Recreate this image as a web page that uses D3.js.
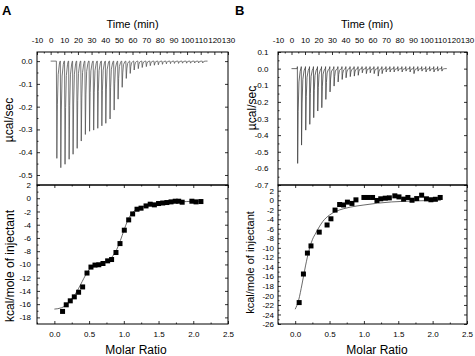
<!DOCTYPE html>
<html><head><meta charset="utf-8">
<script src="https://cdn.jsdelivr.net/npm/d3@7"></script>
<style>
body{margin:0;background:#fff;}
svg{display:block;font-family:"Liberation Sans",Arial,sans-serif;}
.domain{display:none;}
</style></head>
<body>
<script>
// ---------------- DATA ----------------
const timeTicks = [-10,0,10,20,30,40,50,60,70,80,90,100,110,120,130];
const rawTicksA = [0.0,-0.1,-0.2,-0.3,-0.4,-0.5];
const rawTicksB = [0.1,0.0,-0.1,-0.2,-0.3,-0.4,-0.5,-0.6,-0.7];
const heatTicksA = [2,0,-2,-4,-6,-8,-10,-12,-14,-16,-18];
const heatTicksB = [2,0,-2,-4,-6,-8,-10,-12,-14,-16,-18,-20,-22,-24,-26];
const ratioTicks = [0.0,0.5,1.0,1.5,2.0,2.5];

const injTimes = [4.2,7.1,10.2,13.2,16.1,19.1,22.1,25.1,28.2,31.2,34.2,37.2,40.1,43.2,46.2,49.1,52.1,55.1,58.0,60.9,
  63.9,66.8,69.8,72.7,75.7,78.6,81.6,84.5,87.5,90.4,93.4,96.3,99.3,102.2,105.2,108.1,111.1];
const peaksA = [-0.427,-0.468,-0.453,-0.431,-0.409,-0.383,-0.351,-0.322,-0.308,-0.303,-0.295,-0.284,-0.273,-0.254,-0.215,
  -0.167,-0.115,-0.076,-0.054,-0.039,-0.033,-0.028,-0.024,-0.020,-0.018,-0.016,-0.014,-0.012,-0.011,-0.010,
  -0.010,-0.009,-0.009,-0.009,-0.008,-0.008,-0.008];
const peaksB = [-0.57,-0.46,-0.37,-0.335,-0.295,-0.255,-0.235,-0.185,-0.14,-0.105,-0.08,-0.065,-0.055,-0.048,-0.045,
  -0.04,-0.025,-0.03,-0.025,-0.03,-0.045,-0.03,-0.02,-0.02,-0.02,-0.015,-0.02,-0.015,-0.02,-0.03,
  -0.015,-0.015,-0.02,-0.015,-0.02,-0.015,-0.015];
const traceEnd = 115;

const ratioA = [0.118,0.171,0.229,0.287,0.349,0.407,0.47,0.527,0.585,0.64,0.70,0.767,0.824,0.887,0.945,1.007,1.07,
  1.127,1.19,1.248,1.32,1.38,1.44,1.50,1.56,1.62,1.68,1.74,1.79,1.84,1.98,2.04,2.11];
const heatA = [-17.1,-16.1,-15.5,-14.9,-14.2,-13.4,-11.3,-10.4,-10.1,-10.05,-9.86,-9.46,-9.26,-8.2,-6.85,-4.83,-3.27,
  -2.37,-1.66,-1.5,-1.16,-0.9,-1.0,-0.8,-0.72,-0.65,-0.55,-0.45,-0.45,-0.6,-0.45,-0.55,-0.5];
const fitRatioA = [0.0,0.1,0.15,0.2,0.25,0.3,0.35,0.4,0.45,0.5,0.55,0.6,0.65,0.7,0.75,0.8,0.85,0.9,0.95,1.0,1.05,1.1,
  1.15,1.2,1.3,1.4,1.5,1.7,1.9,2.12];
const fitHeatA = [-16.75,-16.55,-16.3,-15.8,-15.2,-14.5,-13.6,-12.6,-11.6,-10.8,-10.3,-10.1,-9.95,-9.8,-9.55,-9.2,-8.6,
  -7.7,-6.4,-4.9,-3.5,-2.5,-1.9,-1.55,-1.2,-0.98,-0.82,-0.62,-0.5,-0.42];

const ratioB = [0.058,0.12,0.178,0.23,0.35,0.464,0.52,0.58,0.647,0.704,0.76,0.826,0.884,1.0,1.06,1.126,1.19,1.245,1.31,
  1.37,1.45,1.51,1.578,1.64,1.70,1.768,1.84,1.91,1.975,2.04,2.11];
const heatB = [-21.5,-15.5,-11.1,-9.6,-6.7,-5.2,-3.9,-2.07,-0.9,-1.0,-0.4,-0.67,0.08,0.58,0.58,0.58,-0.05,0.3,0.43,0.5,
  0.92,0.7,0.23,0.58,0.0,0.35,1.06,0.3,0.1,0.2,0.58];
const fitRatioB = [0.0,0.05,0.1,0.15,0.2,0.25,0.3,0.35,0.4,0.5,0.6,0.7,0.8,0.9,1.0,1.2,1.4,1.6,1.8,2.0,2.12];
const fitHeatB = [-22.9,-21.0,-17.6,-13.8,-10.6,-8.3,-6.9,-5.6,-4.5,-3.1,-2.3,-1.8,-1.45,-1.2,-1.0,-0.62,-0.36,-0.22,
  -0.12,-0.05,0.0];

// ---------------- LAYOUT ----------------
const W = 475, H = 356;
const svg = d3.select("body").append("svg").attr("width", W).attr("height", H);
const fmt1 = d => d.toFixed(1);
const fmt0 = d => String(d);

function panel(cfg) {
  const {x0, x1, top, mid, bot} = cfg;
  const g = svg.append("g");
  const xt = d3.scaleLinear().domain([-10,130]).range([x0,x1]);
  const yt = d3.scaleLinear().domain(cfg.rawDomain).range([mid, top]);
  const xr = d3.scaleLinear().domain([-0.25,2.5]).range([x0,x1]);
  const yr = d3.scaleLinear().domain(cfg.heatDomain).range([bot, mid]);

  // --- raw trace ---
  const pts = [[0,0]];
  injTimes.forEach((t,i) => {
    const p = cfg.peaks[i];
    pts.push([t,0]);
    if (cfg.blip) pts.push([t+0.15, 0.012]);
    pts.push([t+0.35,p],[t+0.75,p*0.45],[t+1.3,p*0.14],[t+2.2,p*0.03],[t+2.7,0]);
  });
  pts.push([traceEnd,0]);
  g.append("path").attr("d", d3.line().x(d=>xt(d[0])).y(d=>yt(d[1]))(pts))
    .attr("fill","none").attr("stroke", cfg.traceColor).attr("stroke-width", 0.8);

  // --- heat fit + points ---
  const fitPts = cfg.fitX.map((x,i)=>[x,cfg.fitY[i]]);
  g.append("path").attr("d", d3.line().curve(d3.curveMonotoneX).x(d=>xr(d[0])).y(d=>yr(d[1]))(fitPts))
    .attr("fill","none").attr("stroke","#444").attr("stroke-width",0.8);
  const s = 5;
  g.selectAll("rect.pt").data(cfg.ratio.map((x,i)=>[x,cfg.heat[i]])).join("rect")
    .attr("x", d=>xr(d[0])-s/2).attr("y", d=>yr(d[1])-s/2).attr("width", s).attr("height", s).attr("fill","#000");

  // --- axes ---
  const tickFont = sel => sel.selectAll("text").attr("font-size", 8).attr("fill","#000")
      .attr("font-family","'Liberation Sans',Arial,sans-serif");
  const lineStyle = sel => sel.selectAll("line").attr("stroke","#000").attr("stroke-width",0.8);
  g.append("g").attr("transform",`translate(0,${top})`)
    .call(d3.axisTop(xt).tickValues(timeTicks).tickFormat(fmt0).tickSizeInner(-3).tickSizeOuter(0).tickPadding(9))
    .call(tickFont).call(lineStyle);
  g.append("g").attr("transform",`translate(0,${top})`)
    .call(d3.axisTop(xt).tickValues(timeTicks.slice(0,-1).map(v=>v+5)).tickFormat("").tickSizeInner(-1.5).tickSizeOuter(0))
    .call(lineStyle);
  g.append("g").attr("transform",`translate(${x0},0)`)
    .call(d3.axisLeft(yt).tickValues(cfg.rawTicks).tickFormat(fmt1).tickSizeInner(-3).tickSizeOuter(0).tickPadding(cfg.rawPad))
    .call(tickFont).call(lineStyle);
  g.append("g").attr("transform",`translate(${x0},0)`)
    .call(d3.axisLeft(yt).tickValues(cfg.rawTicks.slice(0,-1).map(v=>v-0.05)).tickFormat("").tickSizeInner(-1.5).tickSizeOuter(0))
    .call(lineStyle);
  g.append("g").attr("transform",`translate(${x1},0)`)
    .call(d3.axisRight(yt).tickValues(cfg.rawTicks).tickFormat("").tickSizeInner(-3).tickSizeOuter(0))
    .call(lineStyle);
  g.append("g").attr("transform",`translate(${x0},0)`)
    .call(d3.axisLeft(yr).tickValues(cfg.heatTicks).tickFormat(fmt0).tickSizeInner(-3).tickSizeOuter(0).tickPadding(cfg.heatPad))
    .call(tickFont).call(lineStyle);
  g.append("g").attr("transform",`translate(${x0},0)`)
    .call(d3.axisLeft(yr).tickValues(cfg.heatTicks.slice(0,-1).map(v=>v-1)).tickFormat("").tickSizeInner(-1.5).tickSizeOuter(0))
    .call(lineStyle);
  g.append("g").attr("transform",`translate(${x1},0)`)
    .call(d3.axisRight(yr).tickValues(cfg.heatTicks).tickFormat("").tickSizeInner(-3).tickSizeOuter(0))
    .call(lineStyle);
  g.append("g").attr("transform",`translate(0,${bot})`)
    .call(d3.axisBottom(xr).tickValues(ratioTicks).tickFormat(fmt1).tickSizeInner(-3).tickSizeOuter(0).tickPadding(7))
    .call(tickFont).call(lineStyle);
  g.append("g").attr("transform",`translate(0,${bot})`)
    .call(d3.axisBottom(xr).tickValues([-0.25,0.25,0.75,1.25,1.75,2.25]).tickFormat("").tickSizeInner(-1.5).tickSizeOuter(0))
    .call(lineStyle);
  g.append("g").attr("transform",`translate(0,${mid})`)
    .call(d3.axisTop(xr).tickValues(ratioTicks).tickFormat("").tickSizeInner(-3).tickSizeOuter(0))
    .call(lineStyle);
  g.append("g").attr("transform",`translate(0,${mid})`)
    .call(d3.axisTop(xr).tickValues([-0.25,0.25,0.75,1.25,1.75,2.25]).tickFormat("").tickSizeInner(-1.5).tickSizeOuter(0))
    .call(lineStyle);

  g.append("rect").attr("x",x0).attr("y",top).attr("width",x1-x0).attr("height",mid-top)
    .attr("fill","none").attr("stroke","#000").attr("stroke-width",1);
  g.append("rect").attr("x",x0).attr("y",mid).attr("width",x1-x0).attr("height",bot-mid)
    .attr("fill","none").attr("stroke","#000").attr("stroke-width",1);

  g.append("text").attr("x",cfg.letterX).attr("y",15).attr("font-size",13).attr("font-weight","bold").text(cfg.letter);
  g.append("text").attr("x",cfg.timeX).attr("y",28).attr("text-anchor","middle").attr("font-size",11).text("Time (min)");
  g.append("text").attr("x",cfg.ratioX).attr("y",354).attr("text-anchor","middle").attr("font-size",12).text("Molar Ratio");
  g.append("text").attr("transform",`translate(${cfg.ucalX},${cfg.ucalY}) rotate(-90)`).attr("text-anchor","middle")
    .attr("font-size",12).text("µcal/sec");
  g.append("text").attr("transform",`translate(${cfg.kcalX},${cfg.kcalY}) rotate(-90)`).attr("text-anchor","middle")
    .attr("font-size",cfg.kcalSize).text("kcal/mole of injectant");
}

panel({x0:37,x1:228,top:52,mid:185,bot:324,
  rawDomain:[-0.544,0.04], heatDomain:[-19,2], peaks:peaksA, blip:false, traceColor:"#555",
  fitX:fitRatioA, fitY:fitHeatA, ratio:ratioA, heat:heatA,
  rawTicks:rawTicksA, heatTicks:heatTicksA, rawPad:4.5, heatPad:6,
  letter:"A", letterX:2, timeX:132.5, ratioX:136, ucalX:13, ucalY:120, kcalX:13.5, kcalY:266, kcalSize:12});

panel({x0:278,x1:467,top:52,mid:185,bot:324,
  rawDomain:[-0.7,0.1], heatDomain:[-26,3.2], peaks:peaksB, blip:true, traceColor:"#444",
  fitX:fitRatioB, fitY:fitHeatB, ratio:ratioB, heat:heatB,
  rawTicks:rawTicksB, heatTicks:heatTicksB, rawPad:9.5, heatPad:4,
  letter:"B", letterX:235, timeX:367, ratioX:377, ucalX:256, ucalY:108, kcalX:254, kcalY:262.5, kcalSize:11});
</script>
</body></html>
